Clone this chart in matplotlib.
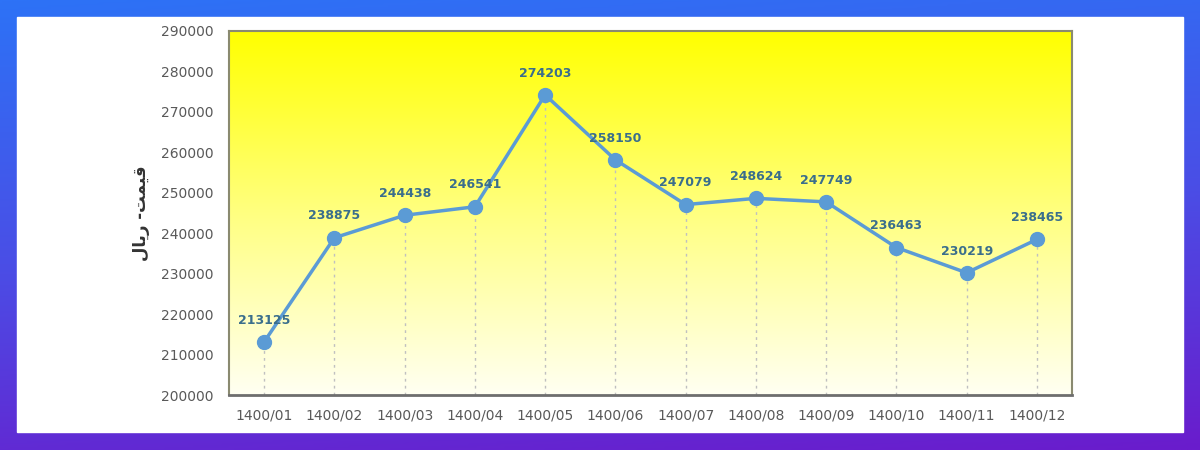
import matplotlib.pyplot as plt
import numpy as np
from matplotlib.colors import LinearSegmentedColormap
from matplotlib.patches import Rectangle

# ---------------- data ----------------
months = ["1400/01", "1400/02", "1400/03", "1400/04", "1400/05", "1400/06",
          "1400/07", "1400/08", "1400/09", "1400/10", "1400/11", "1400/12"]
prices = [213125, 238875, 244438, 246541, 274203, 258150,
          247079, 248624, 247749, 236463, 230219, 238465]
yticks = [200000, 210000, 220000, 230000, 240000, 250000,
          260000, 270000, 280000, 290000]

# "قیمت- ریال" in shaped presentation forms, visual order
ylabel = "\uFEDD\uFE8E\uFBFE\uFEAD -\uFE96\uFEE4\uFBFF\uFED7"

fig = plt.figure(figsize=(12, 4.5), dpi=100)

# page background: blue -> purple gradient
bg = fig.add_axes([0, 0, 1, 1], zorder=-10)
bg_cmap = LinearSegmentedColormap.from_list("bg", ["#2d72f6", "#4a4ee6", "#6a1ccc"])
yy = np.linspace(0, 1, 256).reshape(-1, 1)
xx = np.linspace(0, 1, 256).reshape(1, -1)
bg.imshow(0.85 * yy + 0.15 * xx, cmap=bg_cmap, aspect="auto",
          extent=[0, 1, 0, 1], origin="upper")
bg.add_patch(Rectangle((17 / 1200, 1 - 432 / 450), (1183 - 17) / 1200,
                       (432 - 17) / 450, color="white", zorder=2))
bg.set_xlim(0, 1)
bg.set_ylim(0, 1)
bg.axis("off")

# plot area
ax = fig.add_axes([229 / 1200, 1 - 395 / 450, (1072 - 229) / 1200, (395 - 31) / 450])
x = np.arange(len(months))
ax.set_xlim(-0.5, len(months) - 0.5)
ax.set_ylim(200000, 290000)

grad = LinearSegmentedColormap.from_list("yel", ["#ffff00", "#ffff80", "#fffff2"])
ax.imshow(np.linspace(0, 1, 256).reshape(-1, 1), cmap=grad, aspect="auto",
          extent=[-0.5, len(months) - 0.5, 200000, 290000], origin="upper", zorder=0)

ax.vlines(x, 200000, prices, colors="#c0c0c0", linestyles=(0, (2, 3)),
          linewidth=1, zorder=1)
ax.plot(x, prices, color="#5b9bd5", linewidth=2.5, marker="o", markersize=10,
        zorder=3)
for xi, p in zip(x, prices):
    ax.annotate(str(p), (xi, p), xytext=(0, 11), textcoords="offset points",
                ha="center", va="bottom", fontsize=9, fontweight="bold",
                color="#3a6e8c", zorder=4)

ax.set_xticks(x)
ax.set_xticklabels(months)
ax.set_yticks(yticks)
ax.set_yticklabels([str(v) for v in yticks])
ax.tick_params(axis="both", length=0, labelsize=10, colors="#595959")
ax.tick_params(axis="x", pad=10)
ax.tick_params(axis="y", pad=11)
for s in ax.spines.values():
    s.set_color("#8a8a70")
    s.set_linewidth(1.5)
ax.spines["bottom"].set_color("#6e6e6e")
ax.spines["bottom"].set_linewidth(2)

ax.set_ylabel(ylabel, fontsize=12, fontweight="bold", color="#333333",
              family=["DejaVu Sans"], labelpad=8)

fig.savefig("out.png", dpi=100)
